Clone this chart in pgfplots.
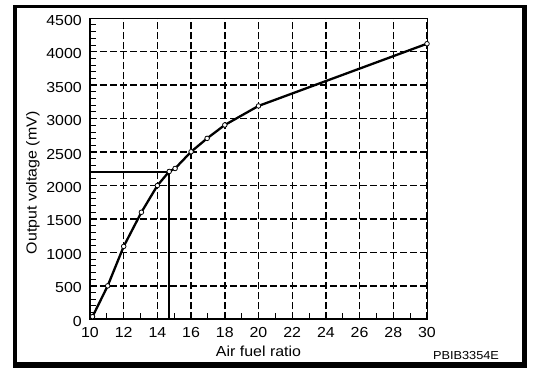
\documentclass[border=0pt]{standalone}
\usepackage{pgfplots}
\pgfplotsset{compat=1.18}
\usepackage{fontspec}
\setmainfont{Liberation Sans}[FakeStretch=1.1]
\begin{document}
\begin{tikzpicture}[x=1pt,y=1pt]
\path[use as bounding box] (0,0) rectangle (560,378);
\fill[black] (13.3,10) rectangle (526.7,373);
\fill[white] (16.7,16) rectangle (521.7,370);
\begin{axis}[
  at={(90pt,58.7pt)}, anchor=south west,
  scale only axis, width=337pt, height=301pt,
  xmin=10, xmax=30, ymin=0, ymax=4500,
  xtick={10,12,...,30}, ytick={0,500,...,4500},
  minor x tick num=1, minor y tick num=4,
  tick align=inside, tick pos=left,
  major tick length=7pt, minor tick length=6pt,
  every tick/.style={black, line width=1pt},
  grid=major,
  major grid style={black, line width=1.4pt, dash pattern=on 7pt off 3pt},
  axis line style={line width=0.8pt},
  ticklabel style={font=\fontsize{14.5}{14.5}\selectfont},
  /pgf/number format/assume math mode=true,
  /pgf/number format/set thousands separator={},
  yticklabel style={inner sep=0pt, xshift=-8pt, yshift=-2pt},
  xticklabel style={inner sep=0pt, yshift=-7.7pt},
  xlabel={Air fuel ratio},
  ylabel={Output voltage (mV)},
  every axis x label/.style={at={([yshift=-32pt]rel axis cs:0.5,0)}, anchor=center, font=\fontsize{14.5}{14.5}\selectfont},
  every axis y label/.style={at={([xshift=-57pt,yshift=-14pt]rel axis cs:0,0.5)}, rotate=90, anchor=center, font=\fontsize{14.5}{14.5}\selectfont},
  clip=false,
]
\draw[line width=2pt] (rel axis cs:0,1) -- (rel axis cs:0,0) -- (rel axis cs:1,0);
\addplot[black, line width=1.6pt] coordinates {(10,2200) (14.7,2200) (14.7,0)};
\addplot[black, line width=2.3pt, mark=*, mark size=2.3pt,
  mark options={fill=white, draw=black, line width=0.8pt}]
  coordinates {
  (10.15,40) (11.05,500) (12.0,1090) (13.05,1600) (14.0,2000) (14.7,2210)
  (15.05,2255) (16.0,2505) (16.95,2705) (18.0,2905) (20.0,3190) (30.0,4120)
  };
\end{axis}
\node[font=\fontsize{11.6}{11.6}\selectfont] at (466,22) {PBIB3354E};
\end{tikzpicture}
\end{document}
